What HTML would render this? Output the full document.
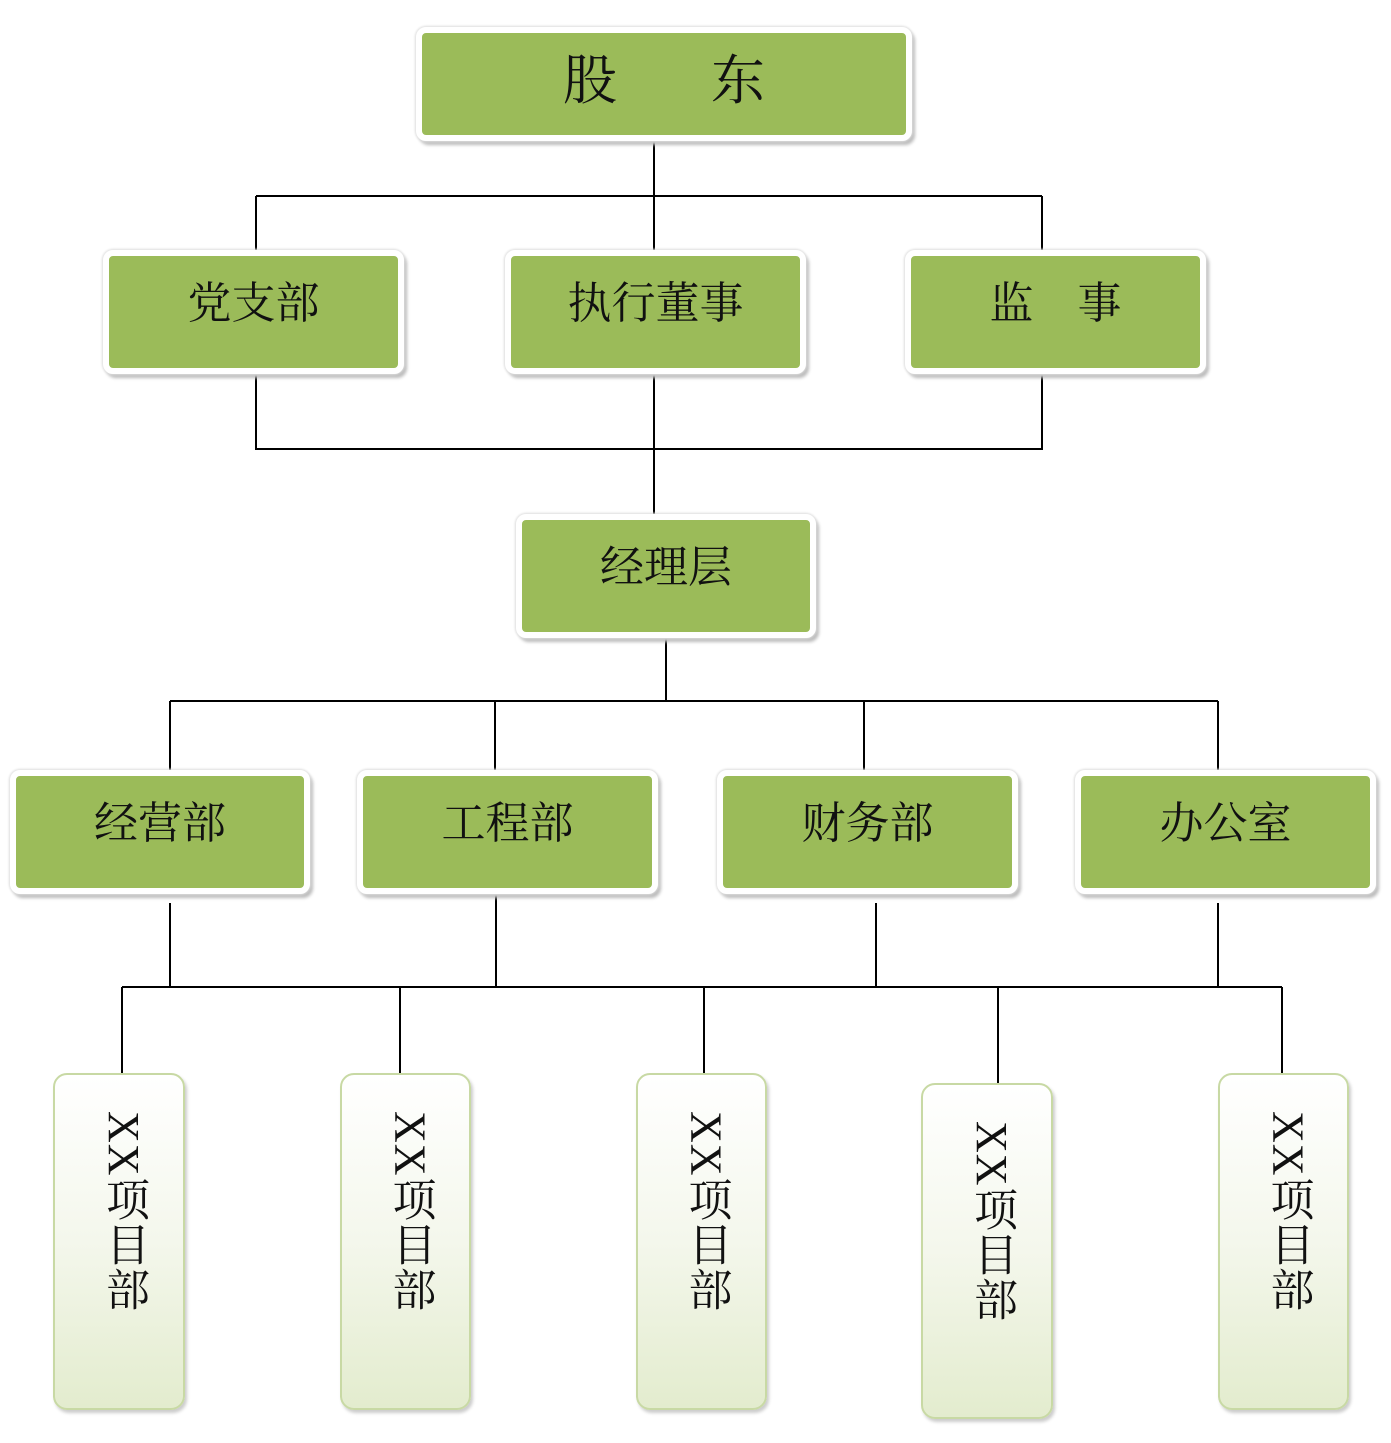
<!DOCTYPE html>
<html><head><meta charset="utf-8"><style>
body{margin:0;width:1391px;height:1443px;background:#fff;position:relative;overflow:hidden;font-family:"Liberation Serif","Noto Serif CJK SC",serif;}
.g{position:absolute;background:#9bbb59;border:6px solid #fff;border-radius:10px;box-shadow:0 0 2px 1px #ddd,3px 4px 3px #bbb;box-sizing:border-box;color:#111;font-size:44px;text-align:center;}
.g span{position:absolute;left:0;right:0;top:50%;transform:translateY(-70%);}
.p{position:absolute;border:2px solid #c8d9a4;border-radius:14px;background:linear-gradient(#fff 0%,#f4f7ec 50%,#e3ecce 100%);box-shadow:2px 3px 3px #ccc;box-sizing:border-box;}
.p div{position:absolute;left:8px;right:0;top:36px;margin:auto;writing-mode:vertical-rl;font-size:44px;line-height:44px;color:#111;width:44px;letter-spacing:1px;}
svg{position:absolute;left:0;top:0}
</style></head><body>
<svg width="1391" height="1443" stroke="#000" stroke-width="2" fill="none">
<path d="M654 137V255M256 196H1042M256 196V255M1042 196V255"/>
<path d="M256 372V449H1042V372M654 372V518"/>
<path d="M666 634V700M170 701H1218M170 701V776M495 701V776M864 701V776M1218 701V776"/>
<path d="M170 903V987M496 890V987M876 903V987M1218 903V987M122 987H1282"/>
<path d="M122 987V1073M400 987V1073M704 987V1073M998 987V1083M1282 987V1073"/>
</svg>
<div class="g" style="left:416px;top:27px;width:496px;height:114px;font-size:54px"><span style="transform:translateY(-60%)">股<span style="position:static;display:inline-block;width:94px;transform:none"></span>东</span></div>
<div class="g" style="left:103px;top:250px;width:301px;height:124px"><span>党支部</span></div>
<div class="g" style="left:505px;top:250px;width:301px;height:124px"><span>执行董事</span></div>
<div class="g" style="left:905px;top:250px;width:301px;height:124px"><span>监&emsp;事</span></div>
<div class="g" style="left:516px;top:514px;width:300px;height:124px"><span>经理层</span></div>
<div class="g" style="left:10px;top:770px;width:300px;height:124px"><span>经营部</span></div>
<div class="g" style="left:357px;top:770px;width:301px;height:124px"><span>工程部</span></div>
<div class="g" style="left:717px;top:770px;width:301px;height:124px"><span>财务部</span></div>
<div class="g" style="left:1075px;top:770px;width:301px;height:124px"><span>办公室</span></div>
<div class="p" style="left:53px;top:1073px;width:132px;height:337px"><div>XX项目部</div></div>
<div class="p" style="left:340px;top:1073px;width:131px;height:337px"><div>XX项目部</div></div>
<div class="p" style="left:636px;top:1073px;width:131px;height:337px"><div>XX项目部</div></div>
<div class="p" style="left:921px;top:1083px;width:132px;height:336px"><div>XX项目部</div></div>
<div class="p" style="left:1218px;top:1073px;width:131px;height:337px"><div>XX项目部</div></div>
</body></html>
